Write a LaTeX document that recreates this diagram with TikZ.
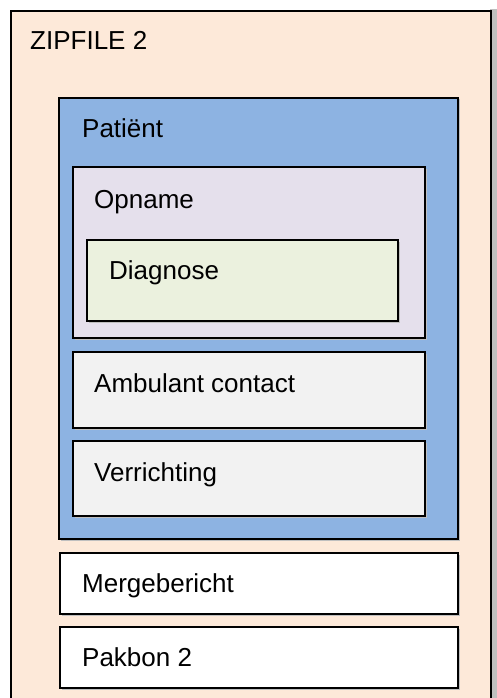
\documentclass[tikz,border=0pt]{standalone}
\usepackage{fontspec}
\setmainfont{Liberation Sans}
\usetikzlibrary{shadows}
\definecolor{outerfill}{HTML}{FDE9D9}
\definecolor{patfill}{HTML}{8DB3E2}
\definecolor{opnfill}{HTML}{E5E0EC}
\definecolor{diafill}{HTML}{EBF1DE}
\definecolor{greyfill}{HTML}{F2F2F2}
\definecolor{shadowcol}{HTML}{BFBFBF}
\tikzset{
  box/.style={draw=black, line width=1.7pt, anchor=north west, inner sep=0pt, outer sep=0pt,
    drop shadow={shadow xshift=1.5pt, shadow yshift=-1.5pt, fill=shadowcol, opacity=1}},
  lbl/.style={anchor=base west, inner sep=0pt, font=\fontsize{26}{30}\selectfont}
}
\newcommand{\bx}[6]{\node[box, fill=#6, minimum width=#4pt-#2pt, minimum height=#5pt-#3pt] (#1) at (#2,#3) {};}
\begin{document}
\begin{tikzpicture}[x=1pt,y=-1pt]
\useasboundingbox (0,0) rectangle (496,698);
\fill[shadowcol] (490,9) rectangle (497,699);
\node[draw=black, line width=2.3pt, fill=outerfill, anchor=north west, inner sep=0pt,
  minimum width=480pt, minimum height=720pt] (zip) at (10,10) {};
\bx{pat}{59}{98}{458}{539}{patfill}
\bx{opn}{73}{167}{425}{338}{opnfill}
\bx{dia}{87}{240}{398}{321}{diafill}
\bx{amb}{73}{352}{425}{428}{greyfill}
\bx{ver}{73}{441}{425}{516}{greyfill}
\bx{mer}{60}{553}{458}{614}{white}
\bx{pak}{60}{627}{458}{688}{white}
\node[lbl] (tzip) at (30,50) {ZIPFILE 2};
\node[lbl] (tpat) at (82,137) {Patiënt};
\node[lbl] (topn) at (94,208) {Opname};
\node[lbl] (tdia) at (109,279) {Diagnose};
\node[lbl] (tamb) at (94,392) {Ambulant contact};
\node[lbl] (tver) at (94,481) {Verrichting};
\node[lbl] (tmer) at (82,592) {Mergebericht};
\node[lbl] (tpak) at (82,666) {Pakbon 2};
\end{tikzpicture}
\end{document}
